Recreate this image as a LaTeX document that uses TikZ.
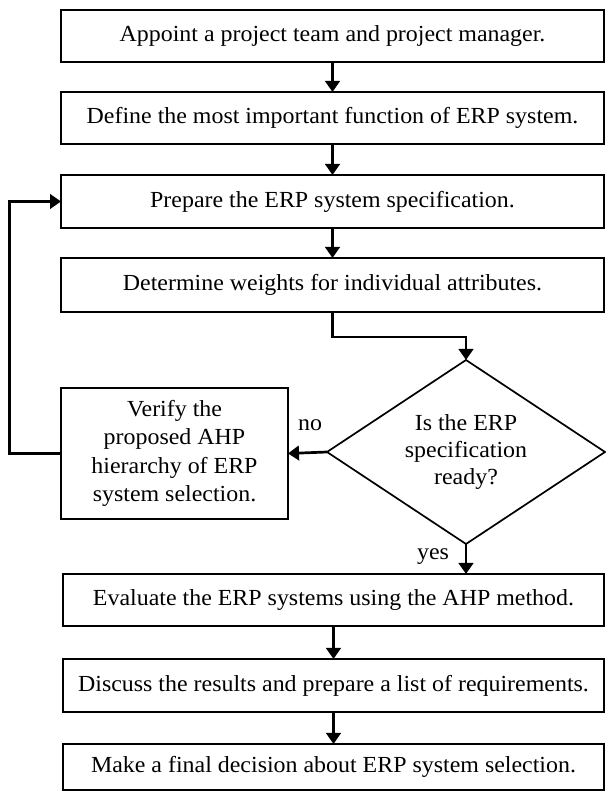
\documentclass[tikz,border=0pt]{standalone}
\usepackage{fontspec}
\setmainfont{Liberation Serif}[FakeStretch=1.04]
\usetikzlibrary{shapes.geometric,arrows.meta}
\begin{document}
\begin{tikzpicture}[x=1pt,y=1pt,
  box/.style={draw, line width=1.7pt, inner sep=0pt, outer sep=0pt, align=center},
  conn/.style={line width=2.7pt, -{Triangle[length=11pt,width=14.5pt]}},
  lbl/.style={inner sep=0pt},
  font=\fontsize{23}{28.5}\selectfont]
\useasboundingbox (0,0) rectangle (605,792);
\node[box, minimum width=543pt, minimum height=52pt] (b1) at (332.5,756) {Appoint a project team and project manager.};
\node[box, minimum width=543pt, minimum height=52pt] (b2) at (332.5,674) {Define the most important function of ERP system.};
\node[box, minimum width=543pt, minimum height=53pt] (b3) at (332.5,590.5) {Prepare the ERP system specification.};
\node[box, minimum width=543pt, minimum height=54pt] (b4) at (332.5,507) {Determine weights for individual attributes.};
\node[box, minimum width=227pt, minimum height=131pt] (ver) at (174.5,338.5) {Verify the\\proposed AHP\\hierarchy of ERP\\system selection.};
\node[draw, diamond, line width=1.7pt, inner sep=0pt, outer sep=0pt, aspect=1.51, minimum width=278pt, minimum height=184pt, align=center, font=\fontsize{23}{27}\selectfont] (dia) at (466,340) {Is the ERP\\specification\\ready?};
\node[box, minimum width=541pt, minimum height=52pt] (b5) at (333.5,192) {Evaluate the ERP systems using the AHP method.};
\node[box, minimum width=541pt, minimum height=53pt] (b6) at (333.5,106.5) {Discuss the results and prepare a list of requirements.};
\node[box, minimum width=541pt, minimum height=46pt] (b7) at (333.5,25) {Make a final decision about ERP system selection.};
\node[lbl] (no) at (310,367) {no};
\node[lbl] (yes) at (433,235) {yes};
\draw[conn] (b1.south) -- (b2.north);
\draw[conn] (b2.south) -- (b3.north);
\draw[conn] (b3.south) -- (b4.north);
\draw[conn] (b4.south) -- ++(0,-25) -| (dia.north);
\draw[conn] (dia.west) -- (ver.east);
\draw[conn] (dia.south) -- (dia.south |- b5.north);
\draw[conn] (b5.south) -- (b6.north);
\draw[conn] (b6.south) -- (b7.north);
\draw[conn] (ver.west) -- ++(-51.5,0) |- (b3.west);
\end{tikzpicture}
\end{document}
